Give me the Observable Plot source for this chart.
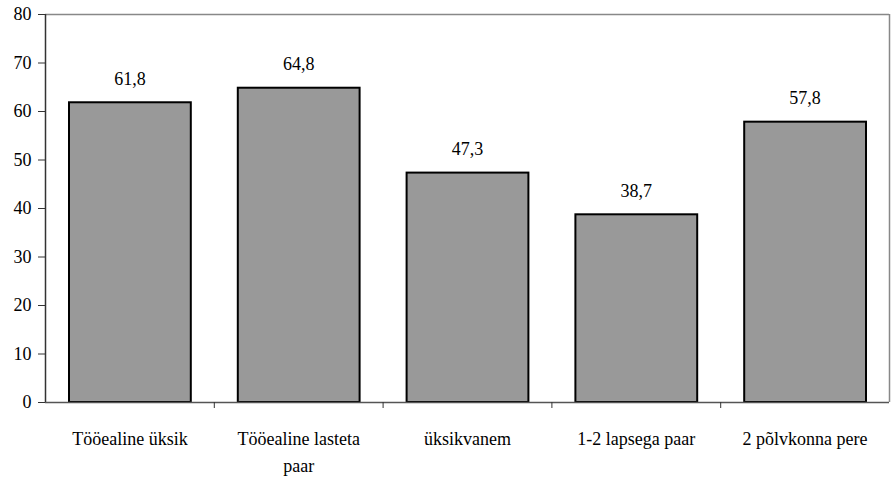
<!DOCTYPE html>
<html>
<head>
<meta charset="utf-8">
<script src="https://cdn.jsdelivr.net/npm/d3@7"></script>
<script src="https://cdn.jsdelivr.net/npm/@observablehq/plot@0.6"></script>
<style>
  html, body { margin: 0; padding: 0; background: #fff; font-family: "Liberation Serif"; }
  #chart svg { display: block; }
  #warm { position: absolute; left: -10000px; top: 0; font-family: "Liberation Serif"; font-size: 18px; }
</style>
</head>
<body>
<div id="warm">0123456789,Tööealine üksik põlvkonna</div>
<div id="chart"></div>
<script>
const categories = ["Tööealine üksik", "Tööealine lasteta\npaar", "üksikvanem", "1-2 lapsega paar", "2 põlvkonna pere"];
const values = [61.8, 64.8, 47.3, 38.7, 57.8];
const yTicks = [0, 10, 20, 30, 40, 50, 60, 70, 80];

const data = categories.map((c, i) => ({i, c, v: values[i]}));
const fmt = d => d.toFixed(1).replace(".", ",");
const font = "Liberation Serif";

const chart = Plot.plot({
  width: 891,
  height: 477,
  marginLeft: 45,
  marginRight: 2,
  marginTop: 14,
  marginBottom: 75,
  style: {fontFamily: font, fontSize: "18px", color: "#000", background: "#fff"},
  x: {domain: [0, categories.length], axis: null},
  y: {domain: [0, 80], axis: null},
  marks: [
    Plot.ruleY([80], {stroke: "#888", strokeWidth: 1.5}),
    Plot.ruleX([categories.length], {stroke: "#888", strokeWidth: 1.5}),
    Plot.rectY(data, {x1: "i", x2: d => d.i + 1, y: "v", fill: "#999999", stroke: "#000", strokeWidth: 2, insetLeft: 24, insetRight: 23}),
    Plot.text(data, {x: d => d.i + 0.5, y: "v", text: d => fmt(d.v), dy: -24, fontSize: 18, fontFamily: font, fill: "#000"}),
    Plot.ruleY([0], {stroke: "#555", strokeWidth: 1.5}),
    Plot.ruleX([0], {stroke: "#333", strokeWidth: 1.5}),
    Plot.axisY({ticks: yTicks, tickSize: 7, tickPadding: 7, fontSize: 18, fontFamily: font, stroke: "#333", label: null}),
    Plot.axisX({ticks: d3.range(1, categories.length), tickSize: 6, tickFormat: () => "", label: null, stroke: "#333"}),
    Plot.axisX({ticks: d3.range(categories.length).map(i => i + 0.5), tickSize: 0, tickPadding: 23, fontSize: 18, fontFamily: font, lineHeight: 1.5, label: null, tickFormat: d => categories[Math.floor(d)]})
  ]
});
chart.setAttribute("font-family", font);
document.getElementById("chart").appendChild(chart);
</script>
</body>
</html>
